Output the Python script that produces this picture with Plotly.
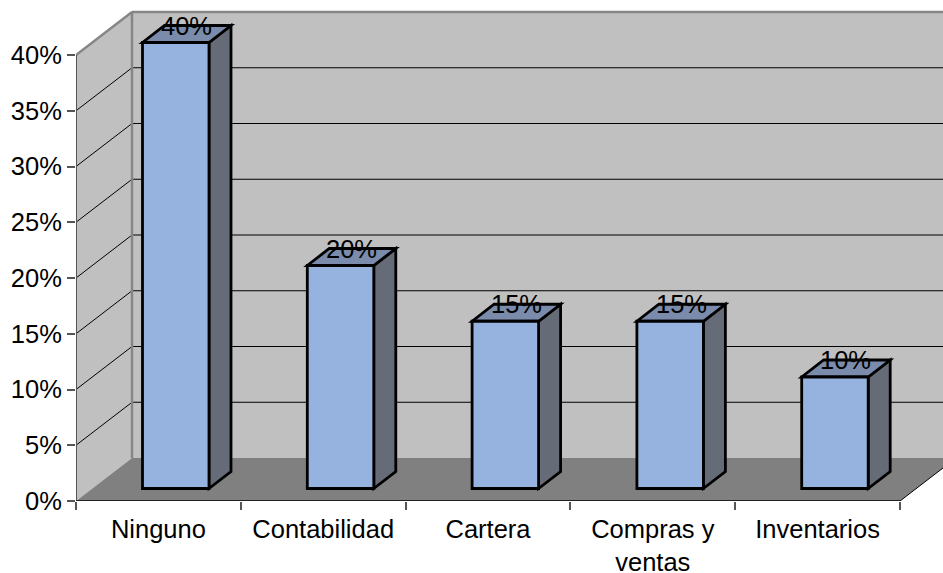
import plotly.graph_objects as go

categories = ["Ninguno", "Contabilidad", "Cartera", "Compras y<br>ventas", "Inventarios"]
values = [0.40, 0.20, 0.15, 0.15, 0.10]
value_labels = ["40%", "20%", "15%", "15%", "10%"]
y_ticks = [0, 0.05, 0.10, 0.15, 0.20, 0.25, 0.30, 0.35, 0.40]

W, H = 943, 573
L, B = 76, 72
PX_X = 164.8      # pixels per category
PX_Y = 1115.0     # pixels per 100 %
XMIN = -0.5
XMAX = XMIN + (W - L) / PX_X
YMAX = (H - B) / PX_Y
X_END = len(categories) - 0.5

DX = 56 / PX_X    # full depth of the box
DY = 43 / PX_Y
BAR_OFF = -0.0965
BAR_W = 66.5 / PX_X
BAR_DX = 22 / PX_X
BAR_DY = 17 / PX_Y
BASE = 12.5 / PX_Y

WALL, FLOOR, EDGE, AXIS = "#C0C0C0", "#808080", "#868686", "#555555"
FRONT, SIDE, TOP = "#95B3DE", "#666B78", "#7A8BAB"
FONT = "Liberation Sans"
FS = 25.5
LW = 2.8


def poly(pts, fill, line="rgba(0,0,0,0)", width=0):
    path = "M" + " L".join(f"{x:.4f},{y:.5f}" for x, y in pts) + " Z"
    return dict(type="path", path=path, xref="x", yref="y", fillcolor=fill,
                line=dict(color=line, width=width), layer="below")


def seg(x0, y0, x1, y1, color, width):
    return dict(type="line", x0=x0, y0=y0, x1=x1, y1=y1, xref="x", yref="y",
                line=dict(color=color, width=width), layer="below")


top_tick = max(y_ticks)
shapes = [
    poly([(XMIN, 0), (XMIN, top_tick), (XMIN + DX, top_tick + DY), (XMIN + DX, DY)], WALL),
    poly([(XMIN + DX, DY), (XMIN + DX, top_tick + DY), (XMAX + 1, top_tick + DY), (XMAX + 1, DY)], WALL),
    poly([(XMIN, 0), (XMIN + DX, DY), (X_END + DX, DY), (X_END, 0)], FLOOR),
]
for t in y_ticks[1:]:
    shapes.append(seg(XMIN, t, XMIN + DX, t + DY, "#000000", 1))
    if t != top_tick:
        shapes.append(seg(XMIN + DX, t + DY, XMAX + 1, t + DY, "#000000", 1))
shapes += [
    seg(XMIN, top_tick, XMIN + DX, top_tick + DY, EDGE, 2.5),
    seg(XMIN + DX, top_tick + DY, XMAX + 1, top_tick + DY, EDGE, 2.5),
    seg(XMIN + DX, DY, XMIN + DX, top_tick + DY, EDGE, 2.5),
    seg(X_END, 0, X_END + DX, DY, "#000000", 1),
]
for i, v in enumerate(values):
    x0 = i + BAR_OFF
    x1 = x0 + BAR_W
    y0 = BASE
    y1 = BASE + v
    shapes.append(poly([(x1, y0), (x1, y1), (x1 + BAR_DX, y1 + BAR_DY), (x1 + BAR_DX, y0 + BAR_DY)],
                       SIDE, "#000000", LW))
    shapes.append(poly([(x0, y1), (x1, y1), (x1 + BAR_DX, y1 + BAR_DY), (x0 + BAR_DX, y1 + BAR_DY)],
                       TOP, "#000000", LW))
shapes += [
    seg(XMIN, 0, XMIN, top_tick, AXIS, 2),
    seg(XMIN, 0, X_END, 0, "#222222", 2),
]

fig = go.Figure(go.Bar(
    x=list(range(len(categories))),
    y=values,
    base=BASE,
    width=BAR_W,
    offset=BAR_OFF,
    marker=dict(color=FRONT, line=dict(color="#000000", width=LW)),
    hoverinfo="skip",
))

annotations = [
    dict(x=i + BAR_OFF + BAR_W / 2 + BAR_DX / 2, y=BASE + v + BAR_DY, xref="x", yref="y",
         text=lbl, showarrow=False, xanchor="center", yanchor="middle",
         font=dict(family=FONT, size=FS, color="#000000"))
    for i, (v, lbl) in enumerate(zip(values, value_labels))
]

fig.update_layout(
    width=W, height=H,
    margin=dict(l=L, r=0, t=0, b=B, pad=0),
    paper_bgcolor="#FFFFFF", plot_bgcolor="#FFFFFF",
    showlegend=False,
    shapes=shapes,
    annotations=annotations,
    font=dict(family=FONT, size=FS, color="#000000"),
    xaxis=dict(
        range=[XMIN, XMAX],
        automargin=False,
        tickmode="array",
        tickvals=list(range(len(categories))),
        ticktext=categories,
        ticks="", showgrid=False, zeroline=False, showline=False,
        ticklabelstandoff=10,
        minor=dict(tickmode="array",
                   tickvals=[i - 0.5 for i in range(len(categories) + 1)],
                   ticks="outside", ticklen=8, tickwidth=1.5, tickcolor=AXIS, showgrid=False),
    ),
    yaxis=dict(
        range=[0, YMAX],
        automargin=False,
        tickmode="array",
        tickvals=y_ticks,
        tickformat=".0%",
        ticks="outside", ticklen=8, tickwidth=1.5, tickcolor=AXIS,
        showgrid=False, zeroline=False, showline=False,
    ),
)

fig.write_html("out.html", config={"displayModeBar": False},
               post_script="document.body.style.margin='0';")
